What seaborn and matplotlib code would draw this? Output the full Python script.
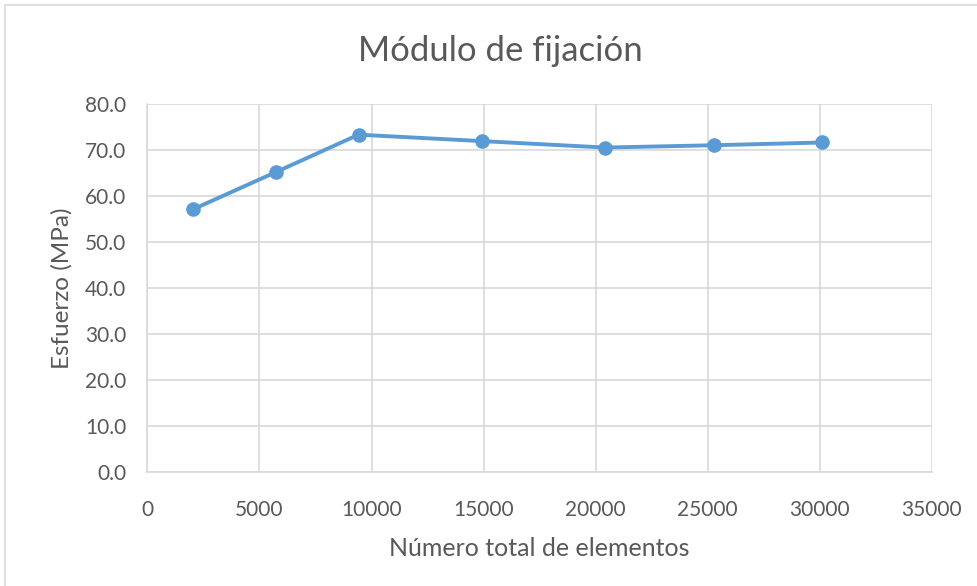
import matplotlib
matplotlib.use("Agg")
import matplotlib.pyplot as plt
import seaborn as sns
import pandas as pd
from matplotlib.patches import Rectangle

elementos = [2050, 5750, 9420, 14930, 20430, 25270, 30110]
esfuerzo = [57.2, 65.3, 73.4, 72.0, 70.6, 71.1, 71.7]
x_ticks = [0, 5000, 10000, 15000, 20000, 25000, 30000, 35000]
y_ticks = [0, 10, 20, 30, 40, 50, 60, 70, 80]

df = pd.DataFrame({"elementos": elementos, "esfuerzo": esfuerzo})

sns.set_style("white")
plt.rcParams['font.family'] = ['Lato', 'DejaVu Sans']
txt = "#595959"
grid = "#D9D9D9"

fig = plt.figure(figsize=(9.77, 5.86), dpi=100)
ax = fig.add_axes([0.1508, 0.194, 0.9539 - 0.1508, 0.822 - 0.194])

sns.lineplot(data=df, x="elementos", y="esfuerzo", ax=ax, color="#5B9BD5",
             linewidth=2.8, marker="o", markersize=10.5, markeredgewidth=0, zorder=3)

ax.set_xlim(0, 35000)
ax.set_ylim(0, 80)
ax.set_xticks(x_ticks)
ax.set_xticklabels([str(v) for v in x_ticks])
ax.set_yticks(y_ticks)
ax.set_yticklabels([f"{v:.1f}" for v in y_ticks])
ax.grid(True, color=grid, linewidth=1.2)
ax.set_axisbelow(True)
for s in ["top", "right"]:
    ax.spines[s].set_visible(False)
for s in ["left", "bottom"]:
    ax.spines[s].set_color(grid)
    ax.spines[s].set_linewidth(1.2)
ax.tick_params(axis="x", length=0, labelsize=15, colors=txt, pad=20)
ax.tick_params(axis="y", length=0, labelsize=15, colors=txt, pad=15)
ax.set_xlabel("Número total de elementos", fontsize=18, color=txt, labelpad=12)
ax.set_ylabel("Esfuerzo (MPa)", fontsize=17.5, color=txt, labelpad=9)

fig.text(500 / 977, 1 - 51 / 586, "Módulo de fijación", ha="center", va="center",
         fontsize=25, color=txt)

fig.patches.append(Rectangle((5 / 977, -0.1), 1.2, 1.1 - 5 / 586,
                             transform=fig.transFigure, fill=False,
                             edgecolor=grid, linewidth=1.2))

fig.savefig("out.png", dpi=100)
